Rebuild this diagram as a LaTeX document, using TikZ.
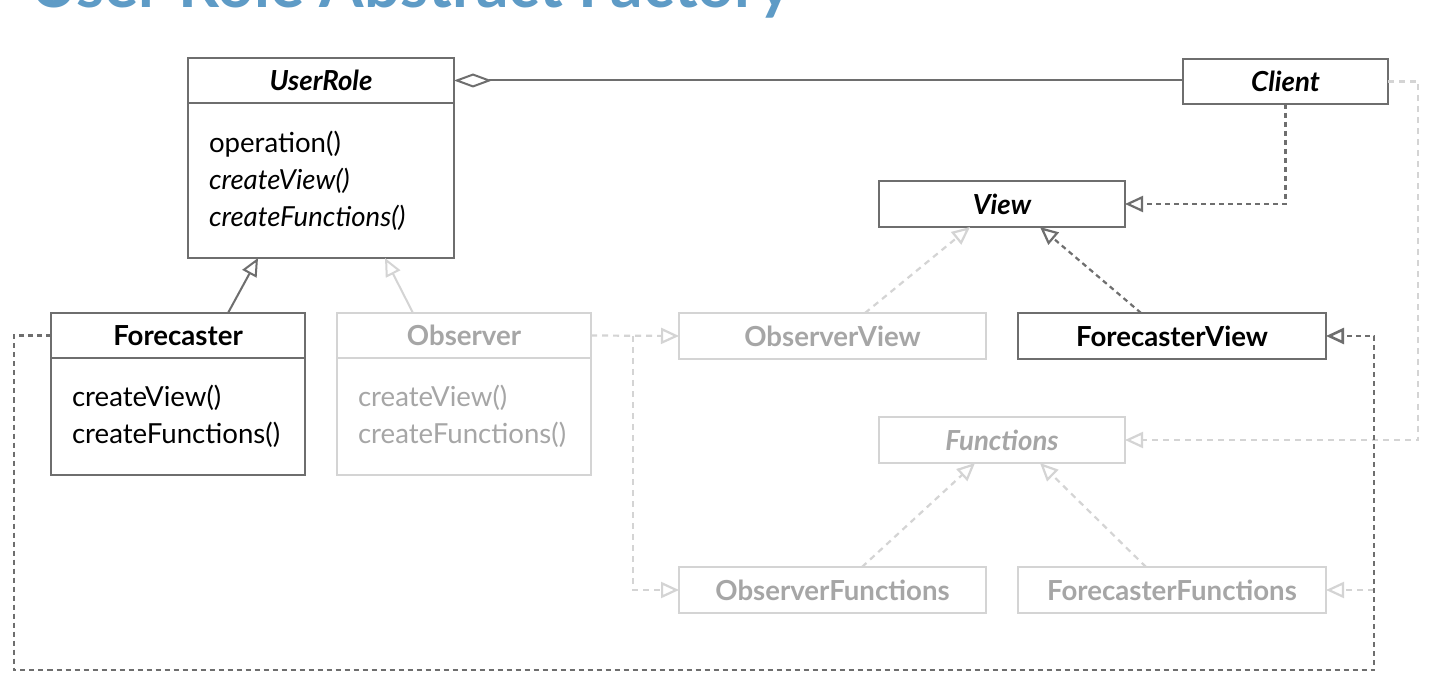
\documentclass[tikz,border=0pt]{standalone}
\usepackage{fontspec}
\setmainfont{Lato}
\usetikzlibrary{arrows.meta,positioning}

\definecolor{darkline}{HTML}{6E6E6E}
\definecolor{lightline}{HTML}{D4D4D4}
\definecolor{lighttext}{HTML}{A6A6A6}
\definecolor{titleblue}{HTML}{5E9BC6}
\newcommand{\umlfont}{\fontsize{13.8}{18.5}\selectfont}

\tikzset{
  classbox/.style={draw=darkline, line width=1pt, text=black, inner sep=0pt, outer sep=0pt,
    anchor=north west, font=\umlfont\bfseries},
  classops/.style={draw=darkline, line width=1pt, text=black, inner ysep=0pt, inner xsep=10.5pt,
    outer sep=0pt, align=left, font=\umlfont},
  faded/.style={draw=lightline, text=lighttext},
  inherit/.style={draw=darkline, line width=1pt, -{Triangle[open, length=9pt, width=8pt]}},
  realize/.style={draw=darkline, line width=1.1pt, dash pattern=on 2.5pt off 2pt,
    -{Triangle[open, length=9pt, width=8pt]}},
  lightrealize/.style={realize, draw=lightline, dash pattern=on 3pt off 2.5pt},
}

\begin{document}
\begin{tikzpicture}[x=0.5pt, y=-0.5pt]
    % frame
    \fill[white] (0,0) rectangle (1441,695);
    \useasboundingbox (0,0) rectangle (1441,695);
    \clip (0,0) rectangle (1441,695);
    % title
    \node[anchor=base west, inner sep=0pt, text=titleblue, font=\fontsize{32}{36}\selectfont\bfseries]
        (title) at (30,8) {User Role Abstract Factory};
    % abstract factory
    \node[classbox, minimum width=133pt, minimum height=22.5pt, font=\umlfont\bfseries\itshape]
        (userrole) at (188,58) {UserRole};
    \node[classops, below=0pt of userrole.south west, anchor=north west, text width=112pt, minimum height=77.5pt]
        (userroleops) {operation()\\\textit{createView()}\\\textit{createFunctions()}};
    % concrete factories
    \node[classbox, minimum width=127pt, minimum height=22.5pt] (forecaster) at (51,313) {Forecaster};
    \node[classops, below=0pt of forecaster.south west, anchor=north west, text width=106pt, minimum height=58.5pt]
        (forecasterops) {createView()\\createFunctions()};
    \node[classbox, faded, minimum width=127pt, minimum height=22.5pt] (observer) at (337,313) {Observer};
    \node[classops, faded, below=0pt of observer.south west, anchor=north west, text width=106pt, minimum height=58.5pt]
        (observerops) {createView()\\createFunctions()};
    % client
    \node[classbox, minimum width=102.5pt, minimum height=22.5pt, font=\umlfont\bfseries\itshape]
        (client) at (1183,59) {Client};
    % products
    \node[classbox, minimum width=123pt, minimum height=23pt, font=\umlfont\bfseries\itshape]
        (view) at (879,181) {View};
    \node[classbox, faded, minimum width=153.5pt, minimum height=23pt] (observerview) at (679,313) {ObserverView};
    \node[classbox, minimum width=154pt, minimum height=23pt] (forecasterview) at (1018,313) {ForecasterView};
    \node[classbox, faded, minimum width=123pt, minimum height=23pt, font=\umlfont\bfseries\itshape]
        (functions) at (879,417) {Functions};
    \node[classbox, faded, minimum width=153.5pt, minimum height=23pt] (observerfunctions) at (679,567) {ObserverFunctions};
    \node[classbox, faded, minimum width=154pt, minimum height=23pt] (forecasterfunctions) at (1018,567) {ForecasterFunctions};
    % corners
    \coordinate (obsfork) at (633,336);
    \coordinate (fnturn) at (1418,440);
    \coordinate (loopleft) at (14,670);
    \coordinate (loopright) at (1374,670);
    \coordinate (fcfork) at (1374,590);
    % aggregation
    \path[draw=darkline, line width=1pt, {Diamond[open, length=19pt, width=7pt]}-]
        (userrole.east) -- (userrole.east -| client.west);
    % generalization
    \path[inherit] ([xshift=25pt]forecaster.north) -- ([xshift=-31.5pt]userroleops.south);
    \path[inherit, draw=lightline] ([xshift=-25.5pt]observer.north) -- ([xshift=32pt]userroleops.south);
    \path[lightrealize] ([xshift=16.25pt]observerview.north) -- ([xshift=-16pt]view.south);
    \path[realize] ([xshift=-15.5pt]forecasterview.north) -- ([xshift=19pt]view.south);
    \path[lightrealize] ([xshift=14.75pt]observerfunctions.north) -- ([xshift=-13.5pt]functions.south);
    \path[lightrealize] ([xshift=-13pt]forecasterfunctions.north) -- ([xshift=19pt]functions.south);
    % dependencies
    \path[realize] (client.south) |- (view.east);
    \path[lightrealize] (client.east) -| (fnturn) -- (functions.east);
    \path[lightrealize] (observer.east) -- (observerview.west);
    \path[lightrealize] (obsfork) |- (observerfunctions.west);
    \path[lightrealize] (fcfork) -- (forecasterfunctions.east);
    \path[realize, line width=1.3pt] (forecaster.west) -| (loopleft) -- (loopright) |- (forecasterview.east);
\end{tikzpicture}
\end{document}
